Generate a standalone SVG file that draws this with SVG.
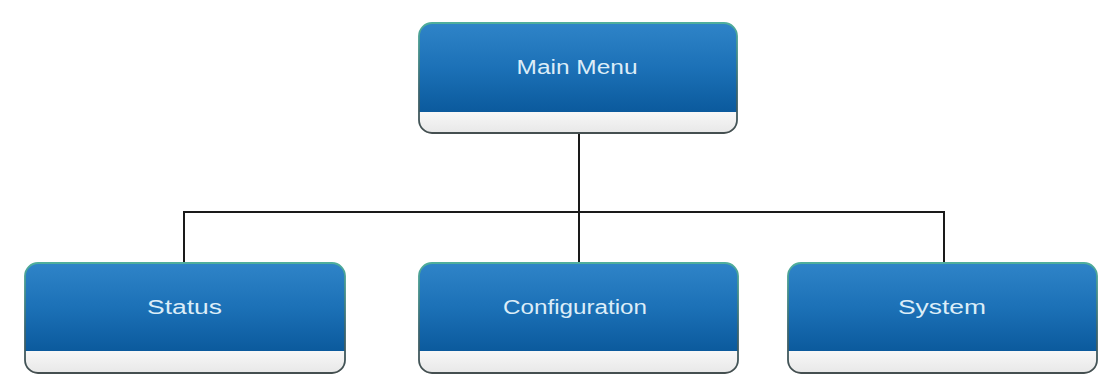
<svg xmlns="http://www.w3.org/2000/svg" width="1099" height="378" viewBox="0 0 1099 378">
  <defs>
    <linearGradient id="blueFill" x1="0" y1="0" x2="0" y2="1">
      <stop offset="0" stop-color="#2f84c8"/>
      <stop offset="0.5" stop-color="#1c71b7"/>
      <stop offset="1" stop-color="#0b5a9d"/>
    </linearGradient>
    <linearGradient id="bandFill" x1="0" y1="0" x2="0" y2="1">
      <stop offset="0" stop-color="#f7f7f7"/>
      <stop offset="1" stop-color="#e8e8e8"/>
    </linearGradient>
    <linearGradient id="edge" x1="0" y1="0" x2="0" y2="1">
      <stop offset="0" stop-color="#4fae9c"/>
      <stop offset="0.6" stop-color="#3a6670"/>
      <stop offset="1" stop-color="#454f50"/>
    </linearGradient>
    <clipPath id="clipTop"><rect x="419" y="23" width="318" height="110" rx="13"/></clipPath>
    <clipPath id="clipStatus"><rect x="25" y="263" width="320" height="110" rx="13"/></clipPath>
    <clipPath id="clipConfig"><rect x="419" y="263" width="319" height="110" rx="13"/></clipPath>
    <clipPath id="clipSystem"><rect x="788" y="263" width="309" height="110" rx="13"/></clipPath>
  </defs>
  <style>
    .wire { fill: none; stroke: #1a1a1a; stroke-width: 2; }
    .blue { fill: url(#blueFill); }
    .band { fill: url(#bandFill); }
    .frame { fill: none; stroke: url(#edge); stroke-width: 1.8; }
    .label { font-family: "Liberation Sans", Arial, sans-serif; font-size: 20px; fill: #dcedf8; text-anchor: middle; }
  </style>

  <g id="connectors">
    <path class="wire" d="M579 133 V263"/>
    <path class="wire" d="M184 263 V212 H944 V263"/>
  </g>

  <g id="node-main-menu">
    <g clip-path="url(#clipTop)">
      <rect class="blue" x="419" y="23" width="318" height="89"/>
      <rect class="band" x="419" y="112" width="318" height="21"/>
    </g>
    <rect class="frame" x="419" y="23" width="318" height="110" rx="13"/>
    <text class="label" x="577" y="74" textLength="121" lengthAdjust="spacingAndGlyphs">Main Menu</text>
  </g>

  <g id="node-status">
    <g clip-path="url(#clipStatus)">
      <rect class="blue" x="25" y="263" width="320" height="88"/>
      <rect class="band" x="25" y="351" width="320" height="22"/>
    </g>
    <rect class="frame" x="25" y="263" width="320" height="110" rx="13"/>
    <text class="label" x="184.5" y="314" textLength="75" lengthAdjust="spacingAndGlyphs">Status</text>
  </g>

  <g id="node-configuration">
    <g clip-path="url(#clipConfig)">
      <rect class="blue" x="419" y="263" width="319" height="88"/>
      <rect class="band" x="419" y="351" width="319" height="22"/>
    </g>
    <rect class="frame" x="419" y="263" width="319" height="110" rx="13"/>
    <text class="label" x="575" y="314" textLength="144" lengthAdjust="spacingAndGlyphs">Configuration</text>
  </g>

  <g id="node-system">
    <g clip-path="url(#clipSystem)">
      <rect class="blue" x="788" y="263" width="309" height="88"/>
      <rect class="band" x="788" y="351" width="309" height="22"/>
    </g>
    <rect class="frame" x="788" y="263" width="309" height="110" rx="13"/>
    <text class="label" x="942" y="314" textLength="88" lengthAdjust="spacingAndGlyphs">System</text>
  </g>
</svg>
